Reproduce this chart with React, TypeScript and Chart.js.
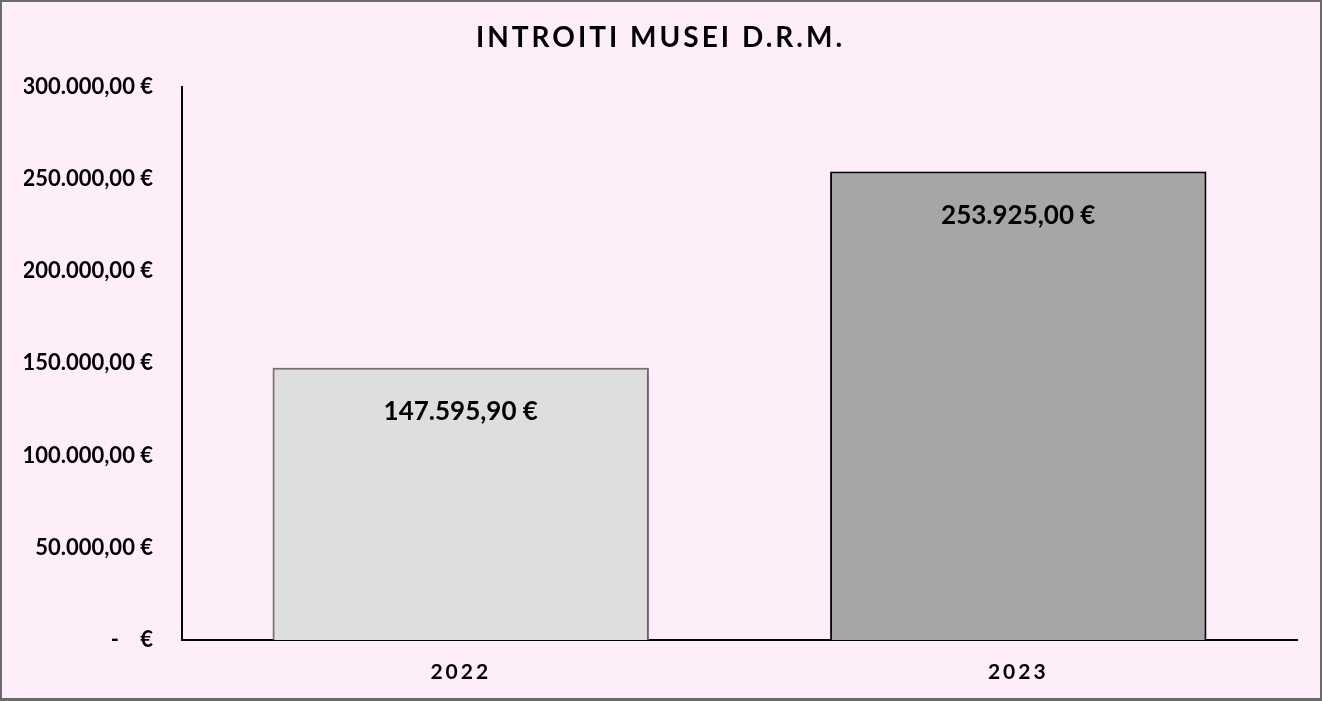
import { useEffect, useRef } from 'react';
import Chart from 'chart.js/auto';

const years = ['2022', '2023'];
const incomes = [147595.9, 253925.0];
const barColors = ['#dedede', '#a6a6a6'];
const barBorders = ['#7d717b', '#000000'];

const FONT = 'Lato, "Open Sans", sans-serif';

function euro(v: number) {
  if (v === 0) return '-    €';
  const [int, dec] = v.toFixed(2).split('.');
  return int.replace(/\B(?=(\d{3})+(?!\d))/g, '.') + ',' + dec + ' €';
}

// title and x labels are spaced out a bit, y labels and values are not
const spacingPlugin = {
  id: 'spacing',
  beforeDraw(chart: any) {
    chart.ctx.letterSpacing = '3px';
  },
  beforeDatasetsDraw(chart: any) {
    const ctx = chart.ctx;
    ctx.letterSpacing = '0px';
    ctx.save();
    ctx.shadowColor = 'rgba(60,40,60,0.5)';
    ctx.shadowBlur = 5;
    ctx.shadowOffsetX = 1;
    ctx.shadowOffsetY = 1;
  },
  afterDatasetsDraw(chart: any) {
    const ctx = chart.ctx;
    ctx.restore();
    const meta = chart.getDatasetMeta(0);
    ctx.save();
    ctx.font = `bold 26px ${FONT}`;
    ctx.fillStyle = '#000';
    ctx.textAlign = 'center';
    ctx.textBaseline = 'middle';
    meta.data.forEach((bar: any, i: number) => {
      ctx.fillText(euro(incomes[i]), bar.x, bar.y + 44);
    });
    ctx.restore();
  },
};

export default function App() {
  const canvasRef = useRef<HTMLCanvasElement>(null);

  useEffect(() => {
    if (!canvasRef.current) return;
    const chart = new Chart(canvasRef.current, {
      type: 'bar',
      data: {
        labels: years,
        datasets: [{
          data: incomes,
          backgroundColor: barColors,
          borderColor: barBorders,
          borderWidth: 2,
          categoryPercentage: 1,
          barPercentage: 0.675,
        }],
      },
      options: {
        animation: false,
        responsive: false,
        layout: { padding: { left: 24, right: 25, top: 0, bottom: 0 } },
        plugins: {
          legend: { display: false },
          tooltip: { enabled: false },
          title: {
            display: true,
            text: 'INTROITI MUSEI D.R.M.',
            color: '#000',
            font: { family: FONT, size: 28, weight: 'bold' },
            padding: { top: 21, bottom: 32 },
          },
        },
        scales: {
          x: {
            grid: { display: false, drawTicks: false },
            border: { display: true, color: '#000', width: 2 },
            ticks: { color: '#000', padding: 20, font: { family: FONT, size: 21, weight: 'bold' } },
            afterFit: (s: any) => { s.height = 61; },
          },
          y: {
            min: 0,
            max: 300000,
            grid: { display: false, drawTicks: false },
            border: { display: true, color: '#000', width: 2 },
            ticks: {
              z: 1,
              stepSize: 50000,
              color: '#000',
              padding: 29,
              font: { family: FONT, size: 22, weight: 'bold' },
              callback: (v: any) => euro(Number(v)),
            },
            afterFit: (s: any) => { s.width = 158; },
          },
        },
      },
      plugins: [spacingPlugin],
    });
    return () => chart.destroy();
  }, []);

  return (
    <div style={{ position: 'fixed', left: 0, top: 0, width: 1322, height: 701, background: '#fdeefa' }}>
      <canvas ref={canvasRef} width={1322} height={701} style={{ position: 'absolute', left: 0, top: 0 }} />
      <div
        style={{
          position: 'absolute',
          inset: 0,
          border: '2px solid #6b6b6b',
          borderBottomWidth: 3,
          boxSizing: 'border-box',
          pointerEvents: 'none',
        }}
      />
    </div>
  );
}
